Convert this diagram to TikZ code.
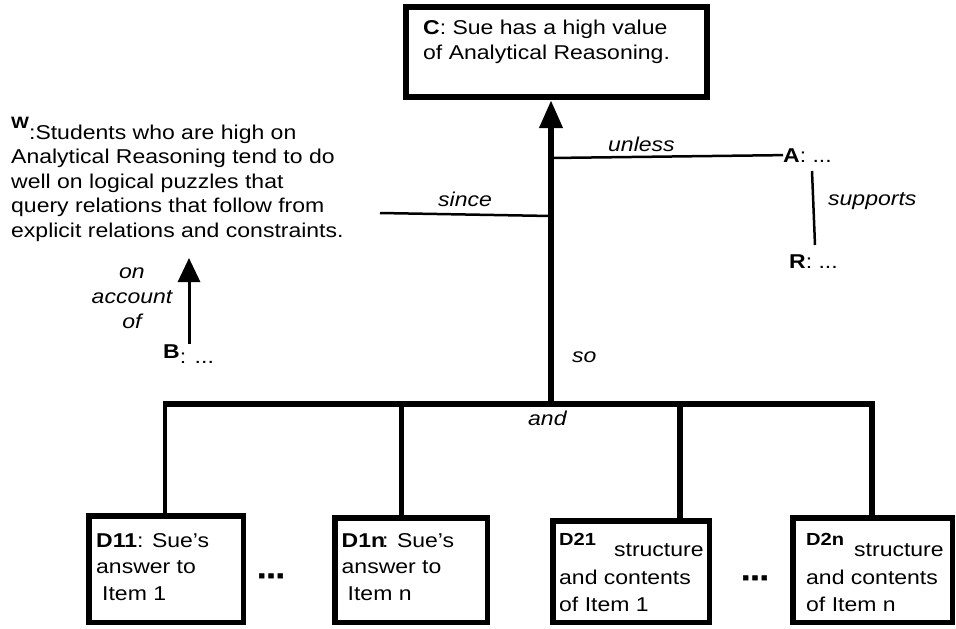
\documentclass[tikz,border=0pt]{standalone}
\usepackage{fontspec}
\setmainfont{Liberation Sans}[FakeStretch=1.15]
\newfontfamily\heavydots{Liberation Sans Bold}[FakeStretch=1.15, FakeBold=2.5]
\usetikzlibrary{arrows.meta}
% fixed first-line height so multi-line nodes can be placed by their first baseline
\newcommand{\topstrut}{\rule{0pt}{16pt}}
% raised bold tag in front of a statement: {raise}{size}{tag}
\newcommand{\tagmark}[3]{\raisebox{#1}{\fontsize{#2}{#2}\selectfont\bfseries #3}}

\begin{document}
\begin{tikzpicture}[x=1pt, y=-1pt,
  every node/.style={inner sep=0pt, font=\fontsize{20}{25}\selectfont},
  box/.style={draw, rectangle, line width=5.5pt},
  rel/.style={font=\fontsize{20}{25}\selectfont\itshape},
  thinlink/.style={line width=2.5pt},
  stemline/.style={line width=6.5pt},
  bigdots/.style={anchor=base, font=\fontsize{29}{29}\heavydots}]

\useasboundingbox (0,0) rectangle (956,629);

% ---- claim ----
\node[box, line width=6pt, minimum width=301pt, minimum height=90pt] (C) at (556.5,52) {};
\node[anchor=north west, align=left] (Ctext) at (423,18.5)
  {\topstrut\textbf{C}: Sue has a high value\\of Analytical Reasoning.};

% ---- warrant ----
\node[anchor=north west, align=left, font=\fontsize{20}{24.5}\selectfont] (W) at (11,117)
  {\tagmark{10.5pt}{16.5}{W}:Students who are high on\\
   Analytical Reasoning tend to do\\
   well on logical puzzles that\\
   query relations that follow from\\
   explicit relations and constraints.};

% ---- backing ----
\node[rel, anchor=north, align=center] (acc) at (132,262) {\topstrut on\\account\\of};
\node[anchor=base west] (B) at (163,358) {\textbf{B}\raisebox{-5pt}{: ...}};
\coordinate (Wfoot) at (189,258);
\draw[line width=3pt, -{Triangle[width=22pt,length=24pt]}] (B.north -| Wfoot) -- (Wfoot);

% ---- rebuttal ----
\node[anchor=base west] (A) at (783,162) {\textbf{A}: ...};
\node[anchor=base west] (R) at (789,268) {\textbf{R}: ...};
\coordinate (Q0) at (812,171);
\coordinate (Q1) at (815,245);
\draw[thinlink] (Q0) -- (Q1);
\node[rel, anchor=base west] (supports) at (828,205.7) {supports};

% ---- main stem: data so claim ----
\coordinate (J) at (551,404);
\draw[stemline, -{Triangle[width=22pt,length=28pt]}] (J) -- (J |- C.south);

\coordinate (U) at (551,158);
\draw[thinlink] (U) -- (A.west);
\node[rel, anchor=base west] (unless) at (608,151.7) {unless};

\coordinate (S0) at (380,213);
\coordinate (S1) at (551,216);
\draw[thinlink] (S0) -- (S1);
\node[rel, anchor=base west] (since) at (438,206.7) {since};

\node[rel, anchor=base west] (so) at (572,362) {so};
\node[rel, anchor=base west] (and) at (528,425) {and};

% ---- data boxes ----
\node[box, minimum width=154.5pt, minimum height=106.5pt] (D11) at (166,569) {};
\node[box, minimum width=152.5pt, minimum height=104.5pt] (D1n) at (411,570) {};
\node[box, minimum width=156.5pt, minimum height=101.5pt] (D21) at (631,571.5) {};
\node[box, minimum width=159.5pt, minimum height=104.5pt] (D2n) at (872.5,570) {};

\node[anchor=north west, align=left, font=\fontsize{20}{26.5}\selectfont] (D11text) at (96,531)
  {\topstrut\textbf{D11}: Sue’s\\answer to\\\hspace*{6pt}Item 1};
\node[anchor=north west, align=left, font=\fontsize{20}{26.5}\selectfont] (D1ntext) at (341.5,531)
  {\topstrut\textbf{D1n}\kern-3pt: Sue’s\\answer to\\\hspace*{6pt}Item n};
\node[anchor=north west, align=left, font=\fontsize{20}{27.5}\selectfont] (D21text) at (559,533.5)
  {\tagmark{11pt}{17.5}{D21}\hspace{18pt}structure\\and contents\\of Item 1};
\node[anchor=north west, align=left, font=\fontsize{20}{27.5}\selectfont] (D2ntext) at (806,533.5)
  {\tagmark{11pt}{17.5}{D2n}\hspace{10pt}structure\\and contents\\of Item n};

\node[bigdots] (dots1) at (271,578) {...};
\node[bigdots] (dots2) at (755,580) {...};

% ---- joining bar and its drops ----
\coordinate (L) at (163,404);
\coordinate (K1) at (165,404);
\coordinate (K2) at (401,404);
\coordinate (K3) at (680,404);
\coordinate (K4) at (872,404);
\draw[stemline, line join=miter] (L) -- (K4) -- (K4 |- D2n.north);
\draw[line width=3.5pt] (K1) -- (K1 |- D11.north);
\draw[line width=5pt] (K2) -- (K2 |- D1n.north);
\draw[line width=6pt] (K3) -- (K3 |- D21.north);

\end{tikzpicture}
\end{document}
